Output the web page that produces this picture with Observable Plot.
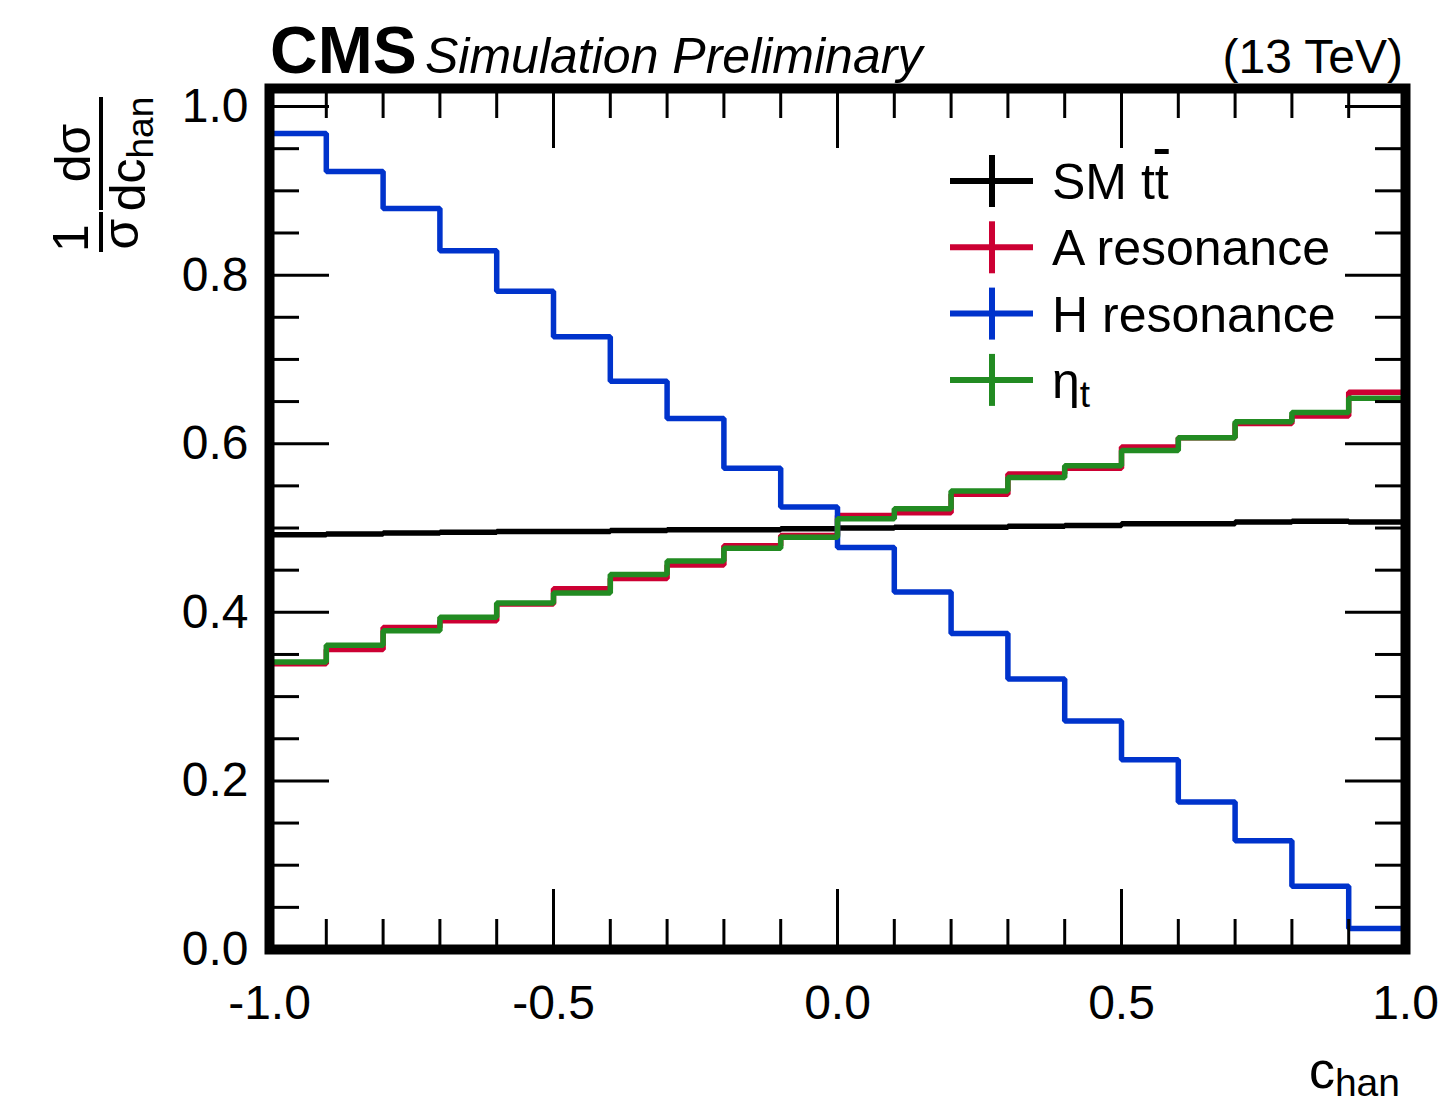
<!DOCTYPE html>
<html><head><meta charset="utf-8">
<script src="https://cdn.jsdelivr.net/npm/d3@7"></script>
<script src="https://cdn.jsdelivr.net/npm/@observablehq/plot@0.6"></script>
<style>
html,body{margin:0;padding:0;background:#fff;}
#chart{width:1450px;height:1102px;}
</style></head><body><div id="chart"></div>
<script>
// ---- data ----
const binEdges = [-1.0,-0.9,-0.8,-0.7,-0.6,-0.5,-0.4,-0.3,-0.2,-0.1,0.0,0.1,0.2,0.3,0.4,0.5,0.6,0.7,0.8,0.9,1.0];
const smTT = [0.492,0.493,0.494,0.495,0.496,0.496,0.497,0.498,0.498,0.499,0.500,0.501,0.501,0.502,0.503,0.505,0.505,0.507,0.508,0.507];
const aRes = [0.339,0.356,0.382,0.390,0.410,0.428,0.440,0.456,0.479,0.491,0.515,0.518,0.540,0.564,0.571,0.596,0.607,0.624,0.633,0.661];
const hRes = [0.968,0.923,0.879,0.829,0.781,0.727,0.674,0.630,0.571,0.525,0.477,0.424,0.375,0.321,0.271,0.225,0.175,0.129,0.075,0.025];
const etaT = [0.341,0.361,0.378,0.394,0.411,0.423,0.445,0.461,0.476,0.489,0.511,0.523,0.544,0.560,0.574,0.592,0.607,0.626,0.637,0.654];
const seriesNames = ["SM", "A resonance", "H resonance", "η"];
const seriesColors = ["#000000", "#cc0033", "#0033cc", "#228b22"];
const xMajorTicks = [-1.0,-0.5,0.0,0.5,1.0];
const xMinorTicks = [-0.9,-0.8,-0.7,-0.6,-0.4,-0.3,-0.2,-0.1,0.1,0.2,0.3,0.4,0.6,0.7,0.8,0.9];
const yMajorTicks = [0.0,0.2,0.4,0.6,0.8,1.0];
const yMinorTicks = [0.05,0.1,0.15,0.25,0.3,0.35,0.45,0.5,0.55,0.65,0.7,0.75,0.85,0.9,0.95];
const yMax = 1.0214;

// ---- layout ----
const W = 1450, H = 1102, mL = 269, mR = 45, mT = 88, mB = 153;
const pw = W - mL - mR, ph = H - mT - mB;
const majorLen = 60, minorLen = 30;
const FONT = "'Liberation Sans', Arial, Helvetica, sans-serif";

const seriesValues = [smTT, aRes, hRes, etaT];
function steps(vals) {
  const pts = vals.map((v, i) => ({x: binEdges[i], y: v}));
  pts.push({x: binEdges[binEdges.length - 1], y: vals[vals.length - 1]});
  return pts;
}
const fmt = d => d.toFixed(1);
const tickStyle = {stroke: "#000", strokeWidth: 3};

const plot = Plot.plot({
  width: W, height: H,
  marginLeft: mL, marginRight: mR, marginTop: mT, marginBottom: mB,
  x: {domain: [-1, 1]},
  y: {domain: [0, yMax]},
  style: {fontFamily: FONT, background: "#fff", color: "#000", overflow: "visible"},
  marks: [
    ...seriesValues.map((vals, i) => Plot.line(steps(vals), {
      x: "x", y: "y", curve: "step-after", stroke: seriesColors[i],
      strokeWidth: 5.5, strokeLinejoin: "miter", strokeLinecap: "butt"
    })),
    // bottom ticks
    Plot.tickX(xMajorTicks, {x: d => d, insetTop: ph - majorLen, ...tickStyle}),
    Plot.tickX(xMinorTicks, {x: d => d, insetTop: ph - minorLen, ...tickStyle}),
    // top ticks
    Plot.tickX(xMajorTicks, {x: d => d, insetBottom: ph - majorLen, ...tickStyle}),
    Plot.tickX(xMinorTicks, {x: d => d, insetBottom: ph - minorLen, ...tickStyle}),
    // left ticks
    Plot.tickY(yMajorTicks, {y: d => d, insetRight: pw - majorLen, ...tickStyle}),
    Plot.tickY(yMinorTicks, {y: d => d, insetRight: pw - minorLen, ...tickStyle}),
    // right ticks
    Plot.tickY(yMajorTicks, {y: d => d, insetLeft: pw - majorLen, ...tickStyle}),
    Plot.tickY(yMinorTicks, {y: d => d, insetLeft: pw - minorLen, ...tickStyle}),
    Plot.axisX(xMajorTicks, {tickSize: 0, tickPadding: 35, tickFormat: fmt, fontSize: 48, label: null}),
    Plot.axisY(yMajorTicks, {tickSize: 0, tickPadding: 21, tickFormat: fmt, fontSize: 48, label: null}),
    Plot.frame({stroke: "#000", strokeWidth: 10})
  ]
});
document.getElementById("chart").appendChild(plot);

// ---- annotations ----
const svg = d3.select(plot);
const g = svg.append("g").attr("font-family", FONT).attr("fill", "#000").attr("text-anchor", "start");

// header
g.append("text").attr("x", 270).attr("y", 73).attr("font-size", 66).attr("font-weight", "bold").text("CMS");
g.append("text").attr("x", 425).attr("y", 73).attr("font-size", 50).attr("font-style", "italic").text("Simulation Preliminary");
g.append("text").attr("x", 1403).attr("y", 73).attr("font-size", 48).attr("text-anchor", "end").text("(13 TeV)");

// x title
const xt = g.append("text").attr("x", 1400).attr("y", 1088).attr("text-anchor", "end").attr("font-size", 52);
xt.append("tspan").text("c");
xt.append("tspan").attr("font-size", 39).attr("dy", 8).text("han");

// y title (rotated fraction)
const yg = g.append("g").attr("transform", "rotate(-90)");
yg.append("text").attr("x", -238).attr("y", 88).attr("text-anchor", "middle").attr("font-size", 50).text("1");
yg.append("text").attr("x", -234).attr("y", 138).attr("text-anchor", "middle").attr("font-size", 50).text("σ");
yg.append("line").attr("x1", -252).attr("x2", -212).attr("y1", 101).attr("y2", 101).attr("stroke", "#000").attr("stroke-width", 4);
yg.append("text").attr("x", -153).attr("y", 90).attr("text-anchor", "middle").attr("font-size", 50).text("dσ");
yg.append("line").attr("x1", -210).attr("x2", -97).attr("y1", 101).attr("y2", 101).attr("stroke", "#000").attr("stroke-width", 4);
const dc = yg.append("text").attr("x", -154).attr("y", 145).attr("text-anchor", "middle").attr("font-size", 50);
dc.append("tspan").text("dc");
dc.append("tspan").attr("font-size", 37).attr("dy", 8).text("han");

// legend
const legY0 = 181, legDy = 66.3;
seriesNames.forEach((name, i) => {
  const cy = legY0 + i * legDy;
  g.append("line").attr("x1", 950).attr("x2", 1033).attr("y1", cy).attr("y2", cy).attr("stroke", seriesColors[i]).attr("stroke-width", 6);
  g.append("line").attr("x1", 992).attr("x2", 992).attr("y1", cy - 26).attr("y2", cy + 26).attr("stroke", seriesColors[i]).attr("stroke-width", 6);
  const t = g.append("text").attr("x", 1052).attr("y", cy + 18).attr("font-size", 50);
  if (i === 0) {
    t.append("tspan").text("SM t");
    t.append("tspan").style("text-decoration", "overline").text("t");
  } else if (i === 3) {
    t.append("tspan").text(name);
    t.append("tspan").attr("font-size", 37).attr("dy", 9).text("t");
  } else {
    t.text(name);
  }
});
</script>
</body></html>
